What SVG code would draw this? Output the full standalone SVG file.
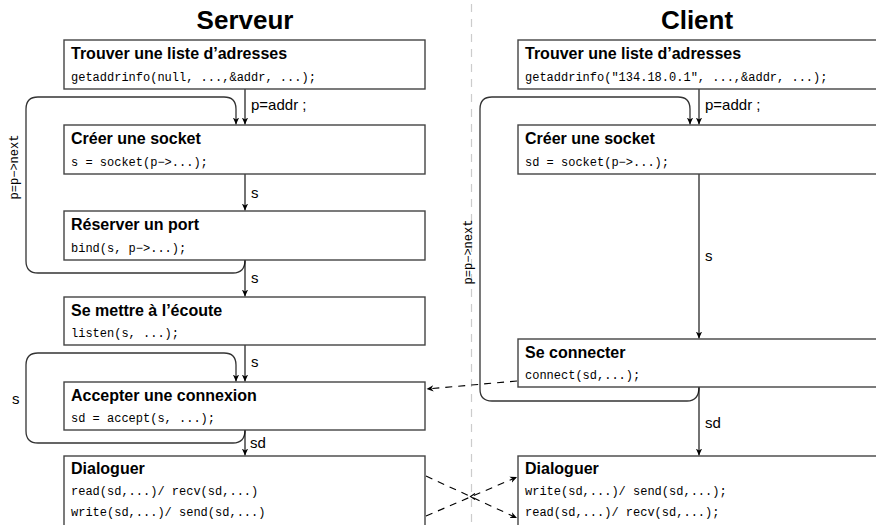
<svg xmlns="http://www.w3.org/2000/svg" width="876" height="525" viewBox="0 0 876 525">
  <style>
    .box { fill: #ffffff; stroke: #444444; stroke-width: 1.4; }
    .head { font-family: "Liberation Sans", Arial, sans-serif; font-weight: bold; font-size: 16px; fill: #000; }
    .code { font-family: "Liberation Mono", "DejaVu Sans Mono", monospace; font-size: 12px; fill: #000; }
    .title { font-family: "Liberation Sans", Arial, sans-serif; font-weight: bold; font-size: 26px; fill: #000; text-anchor: middle; }
    .lbl { font-family: "Liberation Sans", Arial, sans-serif; font-size: 15px; fill: #000; }
    .edge { fill: none; stroke: #000; stroke-width: 1.1; }
    .loop { fill: none; stroke: #333; stroke-width: 1.3; }
    .dash { fill: none; stroke: #000; stroke-width: 1.1; stroke-dasharray: 7 6; }
    .sep { fill: none; stroke: #cccccc; stroke-width: 1.2; stroke-dasharray: 8 7; }
  </style>
  <defs>
    <marker id="arr" viewBox="0 0 10 10" refX="10" refY="5" markerWidth="7" markerHeight="7" markerUnits="userSpaceOnUse" orient="auto">
      <path d="M0,0.5 L10,5 L0,9.5 L3,5 Z" fill="#000"/>
    </marker>
  </defs>

  <!-- column separator -->
  <line class="sep" x1="471.5" y1="4" x2="471.5" y2="525"/>

  <!-- column titles -->
  <text class="title" x="245" y="29">Serveur</text>
  <text class="title" x="697" y="29">Client</text>

  <!-- connectors -->
  <g id="connectors">
    <!-- server side -->
    <path class="edge" d="M245,89 V124.5" marker-end="url(#arr)"/>
    <path class="loop" d="M245,260 Q245,273 233,273 H38 Q26,273 26,261 V109 Q26,97 38,97 H224 Q236,97 236,109 V124.5" marker-end="url(#arr)"/>
    <path class="edge" d="M245,174 V210.5" marker-end="url(#arr)"/>
    <path class="edge" d="M245,260 V296.5" marker-end="url(#arr)"/>
    <path class="edge" d="M245,345 V381.5" marker-end="url(#arr)"/>
    <path class="loop" d="M245,430 Q245,443 233,443 H38 Q26,443 26,431 V365 Q26,353 38,353 H224 Q236,353 236,365 V381.5" marker-end="url(#arr)"/>
    <path class="edge" d="M245,430 V455.5" marker-end="url(#arr)"/>

    <!-- client side -->
    <path class="edge" d="M699,89 V124.5" marker-end="url(#arr)"/>
    <path class="loop" d="M699,387 Q699,401 687,401 H492 Q480,401 480,389 V109 Q480,97 492,97 H678 Q690,97 690,109 V124.5" marker-end="url(#arr)"/>
    <path class="edge" d="M699,174 V338.5" marker-end="url(#arr)"/>
    <path class="edge" d="M699,387 V455.5" marker-end="url(#arr)"/>

    <!-- exchanges between the two programs -->
    <path class="dash" d="M517,381 L426.5,389" marker-end="url(#arr)"/>
    <path class="dash" d="M426,476 L517,518" marker-end="url(#arr)"/>
    <path class="dash" d="M426,516 L517,477" marker-end="url(#arr)"/>
    <path class="edge" d="M475,493.5 L470.5,496.5 L475,499.5" stroke-width="0.9"/>

    <!-- connector labels -->
    <text class="lbl" x="251" y="110">p=addr ;</text>
    <text class="lbl" x="251" y="198">s</text>
    <text class="lbl" x="251" y="283">s</text>
    <text class="lbl" x="251" y="367">s</text>
    <text class="lbl" x="250" y="448">sd</text>
    <text class="lbl" x="12" y="404">s</text>
    <text class="code" transform="translate(18,167) rotate(-90)" text-anchor="middle">p=p−&gt;next</text>

    <text class="lbl" x="705" y="110">p=addr ;</text>
    <text class="lbl" x="705" y="261">s</text>
    <text class="lbl" x="705" y="428">sd</text>
    <text class="code" transform="translate(472,252) rotate(-90)" text-anchor="middle">p=p−&gt;next</text>
  </g>

  <!-- server nodes -->
  <g id="srv-getaddrinfo">
    <rect class="box" x="64" y="40" width="361" height="49"/>
    <text class="head" x="71" y="59">Trouver une liste d’adresses</text>
    <text class="code" x="71" y="81">getaddrinfo(null, ...,&amp;addr, ...);</text>
  </g>
  <g id="srv-socket">
    <rect class="box" x="64" y="125" width="361" height="49"/>
    <text class="head" x="71" y="144">Créer une socket</text>
    <text class="code" x="71" y="166">s = socket(p−&gt;...);</text>
  </g>
  <g id="srv-bind">
    <rect class="box" x="64" y="211" width="361" height="49"/>
    <text class="head" x="71" y="230">Réserver un port</text>
    <text class="code" x="71" y="252">bind(s, p−&gt;...);</text>
  </g>
  <g id="srv-listen">
    <rect class="box" x="64" y="297" width="361" height="48"/>
    <text class="head" x="71" y="316">Se mettre à l’écoute</text>
    <text class="code" x="71" y="337">listen(s, ...);</text>
  </g>
  <g id="srv-accept">
    <rect class="box" x="64" y="382" width="361" height="48"/>
    <text class="head" x="71" y="401">Accepter une connexion</text>
    <text class="code" x="71" y="422">sd = accept(s, ...);</text>
  </g>
  <g id="srv-dialog">
    <rect class="box" x="64" y="456" width="361" height="90"/>
    <text class="head" x="71" y="474">Dialoguer</text>
    <text class="code" x="71" y="495">read(sd,...)/ recv(sd,...)</text>
    <text class="code" x="71" y="516">write(sd,...)/ send(sd,...)</text>
  </g>

  <!-- client nodes -->
  <g id="cli-getaddrinfo">
    <rect class="box" x="518" y="40" width="361" height="49"/>
    <text class="head" x="525" y="59">Trouver une liste d’adresses</text>
    <text class="code" x="525" y="81">getaddrinfo("134.18.0.1", ...,&amp;addr, ...);</text>
  </g>
  <g id="cli-socket">
    <rect class="box" x="518" y="125" width="361" height="49"/>
    <text class="head" x="525" y="144">Créer une socket</text>
    <text class="code" x="525" y="166">sd = socket(p−&gt;...);</text>
  </g>
  <g id="cli-connect">
    <rect class="box" x="518" y="339" width="361" height="48"/>
    <text class="head" x="525" y="358">Se connecter</text>
    <text class="code" x="525" y="379">connect(sd,...);</text>
  </g>
  <g id="cli-dialog">
    <rect class="box" x="518" y="456" width="361" height="90"/>
    <text class="head" x="525" y="474">Dialoguer</text>
    <text class="code" x="525" y="495">write(sd,...)/ send(sd,...);</text>
    <text class="code" x="525" y="516">read(sd,...)/ recv(sd,...);</text>
  </g>
</svg>
